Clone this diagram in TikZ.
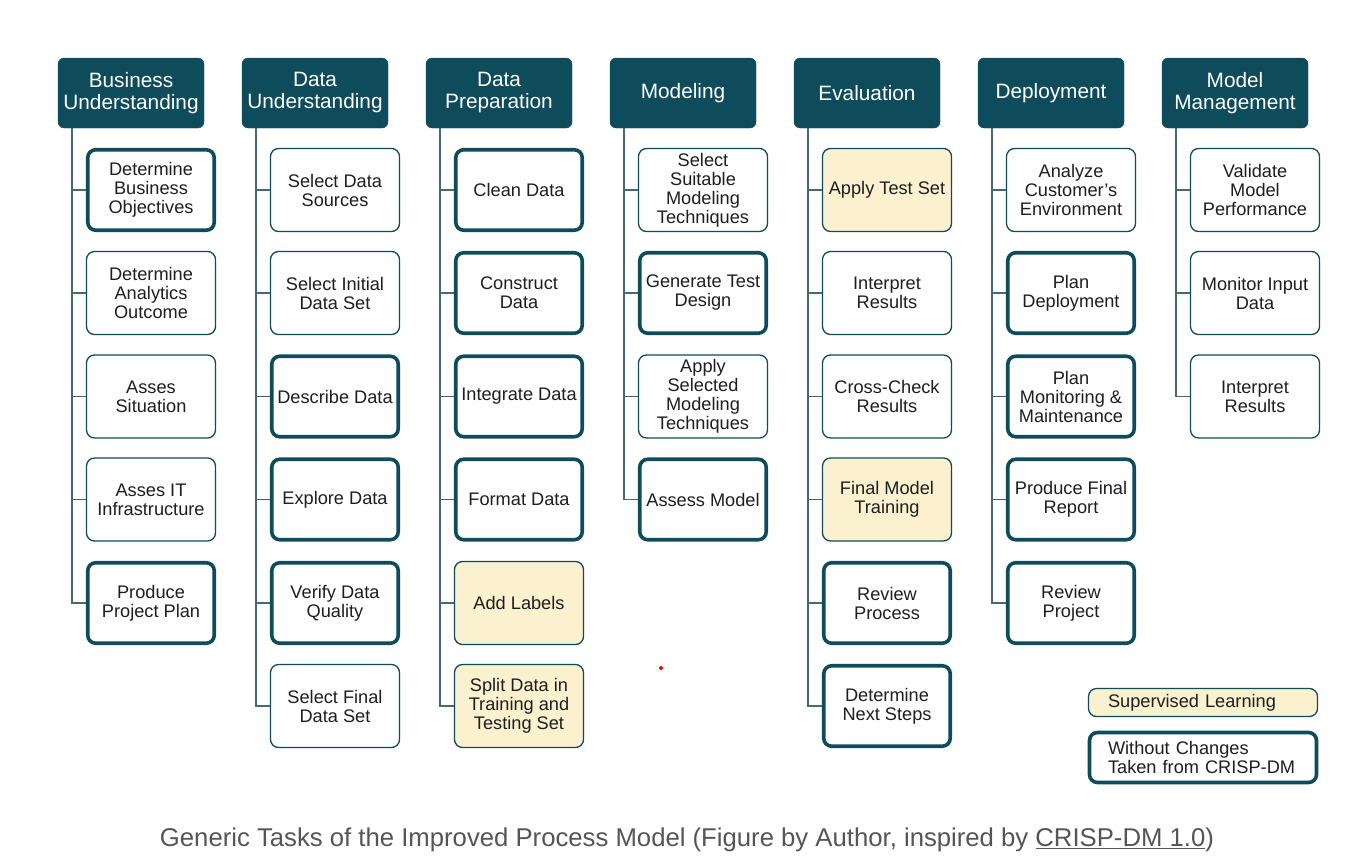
\documentclass[tikz,border=0pt]{standalone}
\usepackage{fontspec}
\setmainfont{Liberation Sans}
\definecolor{teal}{RGB}{14,76,92}
\definecolor{conn}{RGB}{70,104,114}
\definecolor{yel}{RGB}{252,241,206}
\definecolor{txt}{RGB}{30,30,30}
\definecolor{cap}{RGB}{85,85,85}
\begin{document}
\begin{tikzpicture}[x=1pt,y=-1pt,
  header/.style={fill=teal,draw=teal,rounded corners=6pt,minimum width=146pt,minimum height=70pt,
    text=white,align=center,font=\fontsize{20.8pt}{22pt}\selectfont,inner sep=0pt},
  taskbox/.style={draw=teal,line width=1.3pt,rounded corners=8pt,fill=white,minimum width=129pt,minimum height=83pt,
    text=txt,align=center,font=\fontsize{18.2pt}{19pt}\selectfont,inner sep=0pt},
  thick box/.style={taskbox,line width=3.6pt,minimum width=126.5pt,minimum height=80.5pt},
  sup box/.style={taskbox,fill=yel},
  connline/.style={draw=conn,line width=1.8pt}]
\useasboundingbox (0,0) rectangle (1352,862);
\fill[white] (0,0) rectangle (1352,862);

% headers
\node[header] (h1) at (131,93) {Business\\Understanding};
\node[header] (h2) at (315,93) {Data\\Understanding};
\node[header] (h3) at (499,93) {Data\\Preparation};
\node[header] (h4) at (683,93) {Modeling};
\node[header] (h5) at (867,93) {Evaluation};
\node[header] (h6) at (1051,93) {Deployment};
\node[header] (h7) at (1235,93) {Model\\Management};

% column 1
\node[thick box] (t11) at (151,190) {Determine\\Business\\Objectives};
\node[taskbox] (t12) at (151,293) {Determine\\Analytics\\Outcome};
\node[taskbox] (t13) at (151,396.5) {Asses\\Situation};
\node[taskbox] (t14) at (151,499.5) {Asses IT\\Infrastructure};
\node[thick box] (t15) at (151,603) {Produce\\Project Plan};

% column 2
\node[taskbox] (t21) at (335,190) {Select Data\\Sources};
\node[taskbox] (t22) at (335,293) {Select Initial\\Data Set};
\node[thick box] (t23) at (335,396.5) {Describe Data};
\node[thick box] (t24) at (335,499.5) {Explore Data};
\node[thick box] (t25) at (335,603) {Verify Data\\Quality};
\node[taskbox] (t26) at (335,706) {Select Final\\Data Set};

% column 3
\node[thick box] (t31) at (519,190) {Clean Data};
\node[thick box] (t32) at (519,293) {Construct\\Data};
\node[thick box] (t33) at (519,396.5) {Integrate Data};
\node[thick box] (t34) at (519,499.5) {Format Data};
\node[sup box] (t35) at (519,603) {Add Labels};
\node[sup box] (t36) at (519,706) {Split Data in\\Training and\\Testing Set};

% column 4
\node[taskbox] (t41) at (703,190) {Select\\Suitable\\Modeling\\Techniques};
\node[thick box] (t42) at (703,293) {Generate Test\\Design};
\node[taskbox] (t43) at (703,396.5) {Apply\\Selected\\Modeling\\Techniques};
\node[thick box] (t44) at (703,499.5) {Assess Model};

% column 5
\node[sup box] (t51) at (887,190) {Apply Test Set};
\node[taskbox] (t52) at (887,293) {Interpret\\Results};
\node[taskbox] (t53) at (887,396.5) {Cross-Check\\Results};
\node[sup box] (t54) at (887,499.5) {Final Model\\Training};
\node[thick box] (t55) at (887,603) {Review\\Process};
\node[thick box] (t56) at (887,706) {Determine\\Next Steps};

% column 6
\node[taskbox] (t61) at (1071,190) {Analyze\\Customer's\\Environment};
\node[thick box] (t62) at (1071,293) {Plan\\Deployment};
\node[thick box] (t63) at (1071,396.5) {Plan\\Monitoring \&\\Maintenance};
\node[thick box] (t64) at (1071,499.5) {Produce Final\\Report};
\node[thick box] (t65) at (1071,603) {Review\\Project};

% column 7
\node[taskbox] (t71) at (1255,190) {Validate\\Model\\Performance};
\node[taskbox] (t72) at (1255,293) {Monitor Input\\Data};
\node[taskbox] (t73) at (1255,396.5) {Interpret\\Results};

% connectors
\foreach \c/\n in {1/5,2/6,3/6,4/4,5/6,6/5,7/3}{
  \coordinate (v\c) at ([xshift=14pt]h\c.south west);
  \draw[connline] (v\c) |- (t\c\n.west);
  \foreach \k in {1,...,\n}{
    \draw[connline] (t\c\k.west) -- (t\c\k.west -| v\c);
  }
}

% legend
\node[sup box,minimum width=229pt,minimum height=28pt,text width=190pt,align=left] (l1) at (1203,702.5) {Supervised Learning};
\node[thick box,minimum width=227pt,minimum height=50pt,text width=190pt,align=left] (l2) at (1203,757.5) {Without Changes\\Taken from CRISP-DM};

% stray dot
\fill[red] (661,668) circle (2pt);

% caption
\node[text=cap,font=\fontsize{25.7pt}{27pt}\selectfont] (caption) at (687,840) {Generic Tasks of the Improved Process Model (Figure by Author, inspired by \underline{CRISP-DM 1.0})};
\end{tikzpicture}
\end{document}
